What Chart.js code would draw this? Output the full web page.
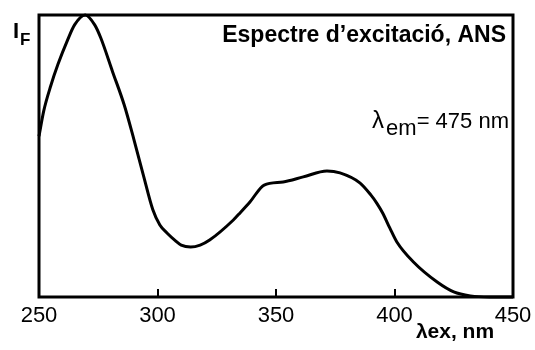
<!DOCTYPE html>
<html>
<head>
<meta charset="utf-8">
<script src="https://cdn.jsdelivr.net/npm/chart.js@4/dist/chart.umd.min.js"></script>
<style>
  html, body { margin: 0; padding: 0; background: #fff; }
  #wrap { width: 535px; height: 350px; }
</style>
</head>
<body>
<div id="wrap"><canvas id="spectrum"></canvas></div>
<script>
// excitation wavelength (nm) and relative fluorescence intensity
const wavelengths = [250, 252, 255, 258, 262, 265, 269.5, 273.5, 276, 281, 286, 290, 294, 298, 301, 304, 307.5,
  310, 314, 318, 322, 332, 335, 339, 345, 353, 361.5, 371.5, 377, 385.5, 390, 392.5, 395, 398, 401,
  408, 418, 425, 432, 440, 450];
const intensity = [57, 66, 75, 82.5, 91, 96.5, 100, 96.5, 92, 80, 68, 56, 43.3, 31, 25.5, 22.7, 20,
  18.4, 17.7, 18.4, 20.2, 27.3, 30, 33.7, 39.7, 40.8, 42.6, 44.7, 44, 40.4, 36.2, 33.3, 29.8, 24.5, 19.5,
  12.4, 5.3, 1.8, 0.4, 0, 0];
const xTicks = [250, 300, 350, 400, 450];
const innerTicks = [300, 350, 400];

const FONT = "'Liberation Sans', Arial, sans-serif";

// draws pieces of text left to right so that the whole run ends at xRight
function drawRun(ctx, parts, xRight) {
  const widths = parts.map(p => { ctx.font = p.font; return ctx.measureText(p.text).width + (p.gap || 0); });
  let x = xRight - widths.reduce((s, w) => s + w, 0);
  ctx.textAlign = 'left';
  parts.forEach((p, i) => {
    ctx.font = p.font;
    ctx.fillText(p.text, x, p.y);
    x += widths[i];
  });
}

const framePlugin = {
  id: 'frame',
  afterDraw(chart) {
    const ctx = chart.ctx;
    const a = chart.chartArea;
    const x = chart.scales.x;
    ctx.save();
    ctx.strokeStyle = '#000';
    ctx.lineWidth = 3;
    ctx.strokeRect(a.left, a.top, a.right - a.left, a.bottom - a.top);

    // small ticks pointing into the plot
    ctx.lineWidth = 2;
    innerTicks.forEach(v => {
      const px = Math.round(x.getPixelForValue(v));
      ctx.beginPath();
      ctx.moveTo(px, a.bottom);
      ctx.lineTo(px, a.bottom - 8);
      ctx.stroke();
    });

    ctx.fillStyle = '#000';
    ctx.textBaseline = 'alphabetic';

    // I_F
    ctx.textAlign = 'left';
    ctx.font = 'bold 22px ' + FONT;
    ctx.fillText('I', 13, 38);
    ctx.font = 'bold 17px ' + FONT;
    ctx.fillText('F', 20, 45);

    // title
    ctx.textAlign = 'right';
    ctx.font = 'bold 23px ' + FONT;
    ctx.fillText('Espectre d\u2019excitaci\u00f3, ANS', 506, 42);

    // emission wavelength
    drawRun(ctx, [
      { text: '\u03bb', font: '24px ' + FONT, y: 128, gap: 2 },
      { text: 'em', font: '22px ' + FONT, y: 135 },
      { text: '= 475 nm', font: '22px ' + FONT, y: 128 }
    ], 509);

    // x axis title
    ctx.textAlign = 'center';
    ctx.font = 'bold 21px ' + FONT;
    ctx.fillText('\u03bbex, nm', 455, 338);
    ctx.restore();
  }
};

new Chart(document.getElementById('spectrum'), {
  type: 'line',
  data: {
    datasets: [{
      data: wavelengths.map((w, i) => ({ x: w, y: intensity[i] })),
      borderColor: '#000',
      borderWidth: 3,
      pointRadius: 0,
      fill: false,
      cubicInterpolationMode: 'monotone',
      clip: false
    }]
  },
  options: {
    responsive: true,
    maintainAspectRatio: false,
    animation: false,
    events: [],
    layout: { padding: { left: 39, top: 15, right: 22, bottom: 0 } },
    plugins: { legend: { display: false }, tooltip: { enabled: false } },
    scales: {
      x: {
        type: 'linear',
        min: 250,
        max: 450,
        afterFit: s => { s.height = 53; },
        afterBuildTicks: s => { s.ticks = xTicks.map(v => ({ value: v })); },
        grid: { display: false },
        border: { display: false },
        ticks: {
          color: '#000',
          padding: -2,
          maxRotation: 0,
          autoSkip: false,
          font: { family: FONT, size: 22 }
        }
      },
      y: {
        display: false,
        min: 0,
        max: 100
      }
    }
  },
  plugins: [framePlugin]
});
</script>
</body>
</html>
